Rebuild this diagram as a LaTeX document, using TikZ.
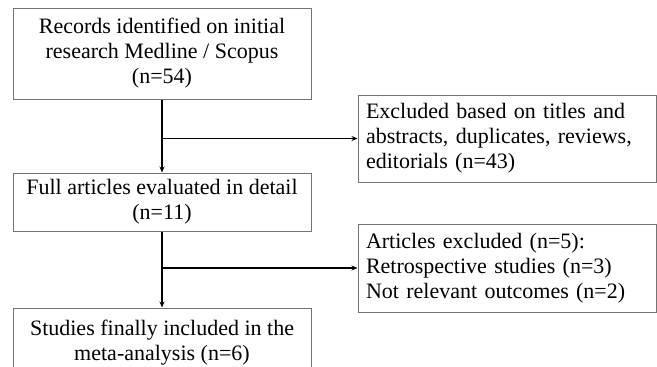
\documentclass[tikz,border=0pt]{standalone}
\usepackage{fontspec}
\setmainfont{Liberation Serif}
\usetikzlibrary{arrows.meta}
\begin{document}
\begin{tikzpicture}[x=1pt,y=-1pt,
  box/.style={draw=black!55, line width=1pt, rectangle, inner sep=0pt,
    font=\fontsize{22}{25}\selectfont},
  mainbox/.style={box, minimum width=298pt, align=center},
  sidebox/.style={box, minimum width=298pt, text width=282pt, align=left},
  conn/.style={line width=1.6pt, -{Stealth[length=6pt,width=5pt]}}
]
\clip (0,0) rectangle (657,367);
\fill[white] (0,0) rectangle (657,367);
\node[mainbox, minimum height=91pt] (rec) at (162,53.5) {Records identified on initial\\research Medline / Scopus\\(n=54)};
\node[mainbox, minimum height=58pt] (full) at (162,202) {Full articles evaluated in detail\\(n=11)};
\node[mainbox, minimum height=70pt] (incl) at (162,343) {Studies finally included in the\\meta-analysis (n=6)};
\node[sidebox, minimum height=87pt] (ex1) at (507,138.5) {Excluded based on titles and\\abstracts, duplicates, reviews,\\editorials (n=43)};
\node[sidebox, minimum height=88pt] (ex2) at (507,268) {Articles excluded (n=5):\\Retrospective studies (n=3)\\Not relevant outcomes (n=2)};
\coordinate (j1) at (rec.south |- ex1.west);
\coordinate (j2) at (full.south |- ex2.west);
\draw[conn] (rec.south) -- (full.north);
\draw[conn] (j1) -- (ex1.west);
\draw[conn] (full.south) -- (incl.north);
\draw[conn] (j2) -- (ex2.west);
\end{tikzpicture}
\end{document}
